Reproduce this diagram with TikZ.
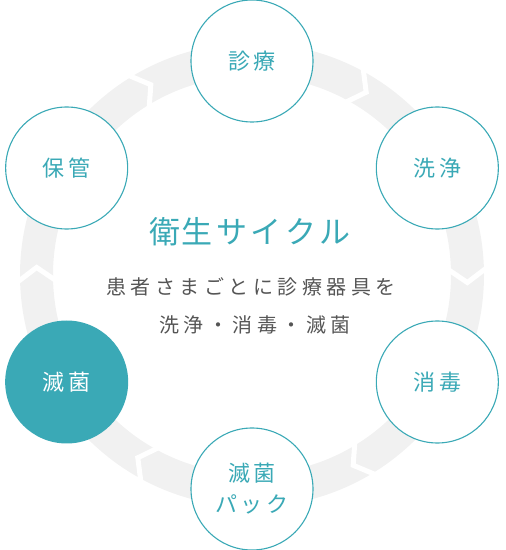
\documentclass[tikz,border=0pt]{standalone}
\usepackage{fontspec}
\usetikzlibrary{calc}
\newfontfamily\jp{Noto Sans CJK JP}
\definecolor{teal1}{HTML}{3AA9B6}
\definecolor{ringgray}{HTML}{F1F1F1}
\definecolor{txtgray}{HTML}{555555}
\newcommand\gp{\hspace{4pt}}
\newcommand\gq{\hspace{4.5pt}}
\newcommand\gt{\hspace{3.5pt}}
\begin{document}
\begin{tikzpicture}[x=1pt,y=1pt,
  step circle/.style={circle, draw=teal1, line width=1.1pt, fill=white, minimum size=122pt, inner sep=0pt},
  filled circle/.style={circle, fill=teal1, minimum size=123pt, inner sep=0pt},
  lbl/.style={font=\jp\fontsize{22}{24}\selectfont, text=teal1, align=center},
  sub/.style={font=\jp\fontsize{20}{22}\selectfont, text=txtgray},
  chev/.style={draw=white, line width=5pt, line join=miter}]
\useasboundingbox (0,0) rectangle (506,550);
\coordinate (C) at (252,275);
% ring
\draw[ringgray, line width=33pt] (C) circle (215.5);
% chevrons (clockwise flow)
\foreach \a in {0,60,120,180,240,300}{
  \draw[chev] ($(C)+(\a+2.3:193)$) -- ($(C)+(\a-2:215.5)$) -- ($(C)+(\a+2.3:238)$);
}
% circles
\node[step circle] (shinryo) at ($(C)+(90:214)$) {};
\node[step circle] (senjo) at ($(C)+(30:214)$) {};
\node[step circle] (shodoku) at ($(C)+(-30:214)$) {};
\node[step circle] (pack) at ($(C)+(-90:214)$) {};
\node[filled circle] (mekkin) at ($(C)+(-150:214)$) {};
\node[step circle] (hokan) at ($(C)+(150:214)$) {};
% labels
\node[lbl] (t1) at (shinryo) {診\gp 療};
\node[lbl] (t2) at (senjo) {洗\gp 浄};
\node[lbl] (t3) at (shodoku) {消\gp 毒};
\node[lbl] (t4a) at ($(pack)+(0,16)$) {滅\gp 菌};
\node[lbl] (t4b) at ($(pack)+(0,-15)$) {パ\gp ッ\gp ク};
\node[lbl, text=white] (t5) at (mekkin) {滅\gp 菌};
\node[lbl] (t6) at (hokan) {保\gp 管};
% center text
\node[font=\jp\fontsize{31}{33}\selectfont, text=teal1] (title) at (250,318) {衛\hspace{2pt}生\gt サ\gt イ\gt ク\gt ル};
\node[sub] (line1) at (251,263) {患\gq 者\gq さ\gq ま\gq ご\gq と\gq に\gq 診\gq 療\gq 器\gq 具\gq を};
\node[sub] (line2) at (255,225) {洗\gq 浄\gq ・\gq 消\gq 毒\gq ・\gq 滅\gq 菌};
\end{tikzpicture}
\end{document}
